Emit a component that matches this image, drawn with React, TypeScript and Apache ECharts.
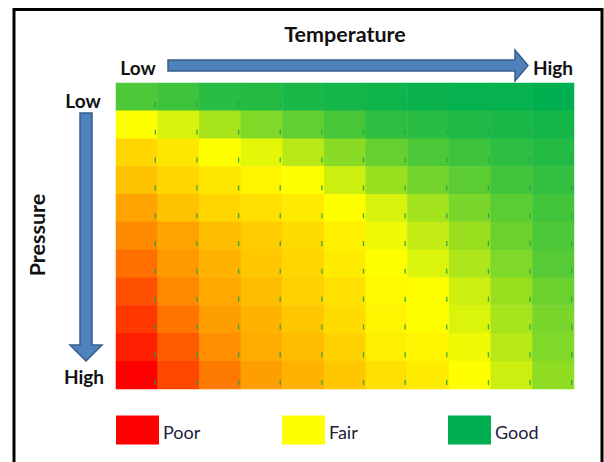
import React, { useEffect, useRef } from "react";
import * as echarts from "echarts";

const temperatureCols = ["T1", "T2", "T3", "T4", "T5", "T6", "T7", "T8", "T9", "T10", "T11"];
const pressureRows = ["P1", "P2", "P3", "P4", "P5", "P6", "P7", "P8", "P9", "P10", "P11"];

// score per cell (0 = poor/red, 50 = fair/yellow, 100 = good/green), rows from low pressure (top) to high
const row0 = [85, 88, 92, 93, 95, 96, 97, 98, 99, 99, 100];
const row1 = [50, 58, 67, 75, 81, 86, 91, 92, 94, 95, 96];
const row2 = [42, 45, 50, 55, 64, 73, 80, 85, 88, 91, 93];
const row3 = [38, 42, 45, 48, 50, 60, 70, 77, 82, 87, 90];
const row4 = [32, 38, 42, 44, 46, 50, 58, 68, 76, 82, 87];
const row5 = [27, 32, 37, 40, 43, 47, 53, 62, 70, 79, 85];
const row6 = [22, 30, 35, 39, 42, 46, 50, 57, 66, 75, 83];
const row7 = [16, 27, 33, 37, 41, 44, 49, 50, 60, 70, 79];
const row8 = [11, 23, 31, 35, 39, 43, 48, 50, 57, 67, 76];
const row9 = [6, 18, 28, 34, 37, 41, 47, 48, 53, 64, 75];
const row10 = [0, 14, 24, 31, 35, 39, 44, 46, 50, 60, 72];
const rows = [row0, row1, row2, row3, row4, row5, row6, row7, row8, row9, row10];

const legendItems = ["Poor", "Fair", "Good"];
const legendColors = ["#FF0000", "#FFFF00", "#00B050"];

export default function App() {
  const ref = useRef<HTMLDivElement>(null);
  useEffect(() => {
    if (!ref.current) return;
    const chart = echarts.init(ref.current, undefined, { renderer: "svg" });
    const heat: number[][] = [];
    const dashes: number[][] = [];
    rows.forEach((r, ri) =>
      r.forEach((v, ci) => {
        heat.push([ci, ri, v]);
        dashes.push([ci, ri]);
      })
    );
    const labelFont = "bold 19px Lato, 'Open Sans', sans-serif";
    const titleFont = "bold 21.5px Lato, 'Open Sans', sans-serif";
    const legendX = [116, 282, 448];
    const graphics: any[] = [
      {
        type: "rect",
        shape: { x: 14, y: 9.5, width: 588, height: 470 },
        style: { fill: "none", stroke: "#000", lineWidth: 3 },
        silent: true,
      },
      {
        type: "text",
        x: 345,
        y: 34,
        style: { text: "Temperature", font: titleFont, fill: "#111", textAlign: "center", textVerticalAlign: "middle" },
      },
      {
        type: "text",
        x: 138,
        y: 67,
        style: { text: "Low", font: labelFont, fill: "#111", textAlign: "center", textVerticalAlign: "middle" },
      },
      {
        type: "text",
        x: 553,
        y: 67,
        style: { text: "High", font: labelFont, fill: "#111", textAlign: "center", textVerticalAlign: "middle" },
      },
      {
        type: "text",
        x: 83,
        y: 100,
        style: { text: "Low", font: labelFont, fill: "#111", textAlign: "center", textVerticalAlign: "middle" },
      },
      {
        type: "text",
        x: 84,
        y: 376,
        style: { text: "High", font: labelFont, fill: "#111", textAlign: "center", textVerticalAlign: "middle" },
      },
      {
        type: "text",
        x: 37,
        y: 235,
        rotation: Math.PI / 2,
        style: { text: "Pressure", font: titleFont, fill: "#111", textAlign: "center", textVerticalAlign: "middle" },
      },
      {
        type: "polygon",
        shape: {
          points: [
            [168, 60], [515, 60], [515, 50], [528, 65.5], [515, 81], [515, 71], [168, 71],
          ],
        },
        style: { fill: "#4F81BD", stroke: "#385D8A", lineWidth: 1.5 },
      },
      {
        type: "polygon",
        shape: {
          points: [
            [80, 113], [92, 113], [92, 345], [102, 345], [86, 361], [70, 345], [80, 345],
          ],
        },
        style: { fill: "#4F81BD", stroke: "#385D8A", lineWidth: 1.5 },
      },
    ];
    legendItems.forEach((name, i) => {
      graphics.push({
        type: "rect",
        shape: { x: legendX[i], y: 415.5, width: 43, height: 29 },
        style: { fill: legendColors[i] },
      });
      graphics.push({
        type: "text",
        x: legendX[i] + 47,
        y: 431.5,
        style: { text: name, font: "18px Lato, 'Open Sans', sans-serif", fill: "#20203a", textAlign: "left", textVerticalAlign: "middle" },
      });
    });

    chart.setOption({
      animation: false,
      backgroundColor: "#fff",
      grid: { left: 116, top: 83, width: 458, height: 306 },
      xAxis: { type: "category", data: temperatureCols, show: false },
      yAxis: { type: "category", data: pressureRows, inverse: true, show: false },
      visualMap: {
        show: false,
        min: 0,
        max: 100,
        seriesIndex: 0,
        inRange: { color: ["#FF0000", "#FFFF00", "#00B050"] },
      },
      series: [
        {
          type: "heatmap",
          data: heat,
          itemStyle: { borderWidth: 0 },
          emphasis: { disabled: true },
        },
        {
          type: "scatter",
          data: dashes,
          symbol: "rect",
          symbolSize: [1.3, 5],
          symbolOffset: [18.5, 7.5],
          itemStyle: { color: "#22A445", opacity: 0.9 },
          silent: true,
        },
      ],
      graphic: graphics,
    });
    return () => chart.dispose();
  }, []);
  return <div ref={ref} style={{ position: "absolute", left: 0, top: 0, width: 604, height: 462 }} />;
}
